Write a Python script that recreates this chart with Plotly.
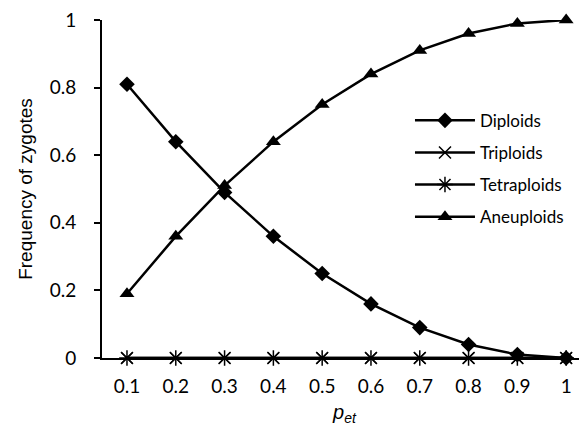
import plotly.graph_objects as go

p_et = [0.1, 0.2, 0.3, 0.4, 0.5, 0.6, 0.7, 0.8, 0.9, 1.0]
diploids = [0.81, 0.64, 0.49, 0.36, 0.25, 0.16, 0.09, 0.04, 0.01, 0.0]
triploids = [0, 0, 0, 0, 0, 0, 0, 0, 0, 0]
tetraploids = [0, 0, 0, 0, 0, 0, 0, 0, 0, 0]
aneuploids = [0.19, 0.36, 0.51, 0.64, 0.75, 0.84, 0.91, 0.96, 0.99, 1.0]
x_ticklabels = ["0.1", "0.2", "0.3", "0.4", "0.5", "0.6", "0.7", "0.8", "0.9", "1"]
y_tickvals = [0, 0.2, 0.4, 0.6, 0.8, 1.0]
y_ticklabels = ["0", "0.2", "0.4", "0.6", "0.8", "1"]

fig = go.Figure()
series = [
    ("Diploids", diploids, dict(symbol="diamond", size=12)),
    ("Triploids", triploids, dict(symbol="x-thin-open", size=12, line=dict(width=1.5, color="black"))),
    ("Tetraploids", tetraploids, dict(symbol="asterisk-open", size=13, line=dict(width=1.5, color="black"))),
    ("Aneuploids", aneuploids, dict(symbol="triangle-up", size=13)),
]
for name, vals, mk in series:
    fig.add_trace(go.Scatter(
        x=p_et, y=vals, name=name, mode="lines+markers", legendgroup=name,
        line=dict(color="black", width=2.5),
        marker=dict(color="black", **mk),
        cliponaxis=False,
    ))

# page body has an 8px margin: the figure is sized/offset to compensate
fig.update_layout(
    width=579, height=418,
    margin=dict(l=94, r=0, t=12, b=68),
    paper_bgcolor="white", plot_bgcolor="white",
    font=dict(family="Lato, Open Sans, sans-serif", color="black", size=19),
    showlegend=True,
    legend=dict(x=0.635, y=0.755, xanchor="left", yanchor="top",
                font=dict(size=17, family="Lato, sans-serif"),
                bgcolor="rgba(0,0,0,0)", tracegroupgap=7,
                itemwidth=60),
    xaxis=dict(range=[0.0488, 1.0427], tickvals=p_et, ticktext=x_ticklabels,
               showgrid=False, zeroline=False, showline=True, linecolor="black",
               linewidth=2, ticks="", ticklabelstandoff=10, automargin=False,
               ticklabeloverflow="allow",
               title=dict(text="<i>p<sub>et</sub></i>", font=dict(size=20, family="Liberation Sans, Arial"), standoff=14)),
    yaxis=dict(range=[0, 1], tickvals=y_tickvals, ticktext=y_ticklabels,
               showgrid=False, zeroline=False, showline=True, linecolor="black",
               linewidth=2, ticks="outside", ticklen=6, tickwidth=2, tickcolor="black",
               ticklabelstandoff=14, automargin=False, ticklabeloverflow="allow",
               title=dict(text="Frequency of zygotes", font=dict(size=19, family="Liberation Sans, Arial"), standoff=12)),
)

fig.write_html("out.html")
